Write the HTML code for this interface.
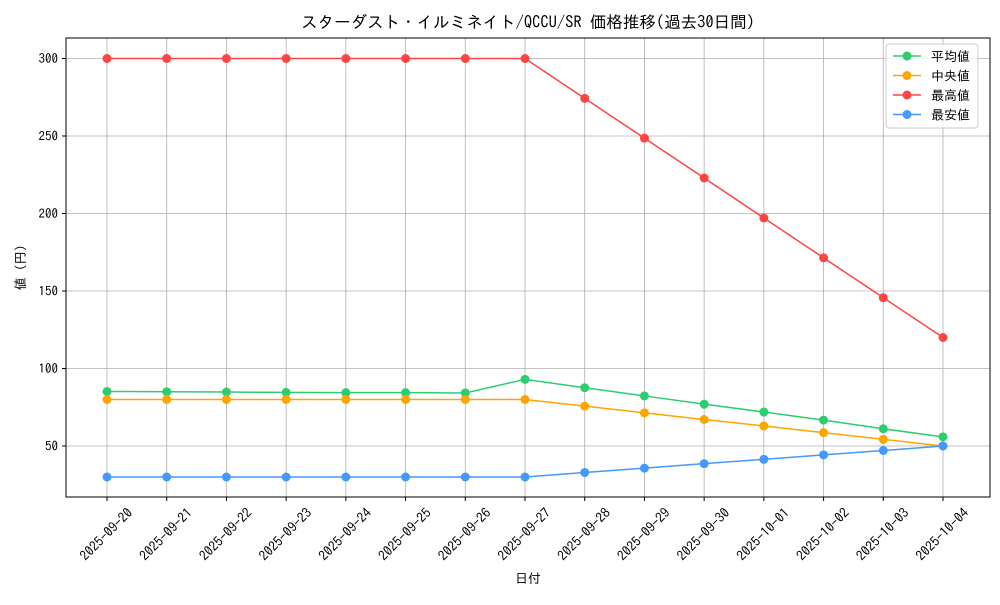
<!DOCTYPE html>
<html><head><meta charset="utf-8"><style>
body{margin:0;background:#fff;}
svg{font-family:"IPAGothic","Noto Sans CJK JP",sans-serif;}
</style></head><body>
<svg id="chart" width="1000" height="600" xmlns="http://www.w3.org/2000/svg"></svg>
<script>
const categories=["2025-09-20","2025-09-21","2025-09-22","2025-09-23","2025-09-24","2025-09-25","2025-09-26","2025-09-27","2025-09-28","2025-09-29","2025-09-30","2025-10-01","2025-10-02","2025-10-03","2025-10-04"];
const avgValues=[85.2,85,84.8,84.6,84.4,84.4,84.2,93,87.6,82.3,77,71.9,66.7,61.1,55.9];
const medValues=[80,80,80,80,80,80,80,80,75.7,71.4,67.1,62.9,58.6,54.3,50];
const maxValues=[300,300,300,300,300,300,300,300,274.3,248.6,222.9,197.1,171.4,145.7,120];
const minValues=[30,30,30,30,30,30,30,30,32.9,35.7,38.6,41.4,44.3,47.1,50];
const yTicks=[50,100,150,200,250,300];
const seriesNames=["平均値","中央値","最高値","最安値"];
const seriesColors=["#2ecc71","#ffa500","#ff4444","#4499ff"];
const seriesKeys=["avg","median","max","min"];

const svg=document.getElementById('chart');
const NS="http://www.w3.org/2000/svg";
const L=66,R=990,T=38,B=497;
const x0=107,x1=943;
function xs(i){return x0+(x1-x0)*i/(categories.length-1);}
function ys(v){return 446-(v-50)*1.55;}
function mk(tag,attrs,parent){const e=document.createElementNS(NS,tag);for(const k in attrs)e.setAttribute(k,attrs[k]);(parent||svg).appendChild(e);return e;}

const grid=mk('g',{});


categories.forEach((c,i)=>{mk('line',{x1:xs(i),x2:xs(i),y1:T,y2:B,stroke:'#b0b0b0','stroke-width':0.8},grid);});
yTicks.forEach(v=>{mk('line',{x1:L,x2:R,y1:ys(v),y2:ys(v),stroke:'#b0b0b0','stroke-width':0.8},grid);});

const frame=mk('rect',{x:L,y:T,width:R-L,height:B-T,fill:'none',stroke:'#000','stroke-width':1});



categories.forEach((c,i)=>{
  mk('line',{x1:xs(i),x2:xs(i),y1:B,y2:B+4,stroke:'#000'});
  const cx=xs(i)-1, cy=B+37;
  const t=mk('text',{x:cx,y:cy,'font-size':13.5,'text-anchor':'middle','dominant-baseline':'central',transform:`rotate(-45 ${cx} ${cy})`});
  t.textContent=c;
  
  
});
yTicks.forEach(v=>{
  mk('line',{x1:L-4,x2:L,y1:ys(v),y2:ys(v),stroke:'#000'});
  const t=mk('text',{x:L-8,y:ys(v)+4.5,'font-size':13,'text-anchor':'end'});
  t.textContent=v;
  
  
});

const series=[avgValues,medValues,maxValues,minValues];
series.forEach((vals,s)=>{
  const g=mk('g',{});
  
  
  mk('polyline',{points:vals.map((v,i)=>xs(i)+','+ys(v)).join(' '),fill:'none',stroke:seriesColors[s],'stroke-width':1.5},g);
  vals.forEach((v,i)=>{
    const c=mk('circle',{cx:xs(i),cy:ys(v),r:4.5,fill:seriesColors[s]},g);
    
    
  });
});

const title=mk('text',{x:(L+R)/2,y:28,'font-size':16.5,'text-anchor':'middle'});
title.textContent="スターダスト・イルミネイト/QCCU/SR 価格推移(過去30日間)";


const xt=mk('text',{x:(L+R)/2,y:583,'font-size':13,'text-anchor':'middle'});
xt.textContent="日付";


const yt=mk('text',{x:25,y:(T+B)/2,'font-size':13,'text-anchor':'middle',transform:`rotate(-90 25 ${(T+B)/2})`});
yt.textContent="値 (円)";



const lg=mk('g',{});


mk('rect',{x:886,y:44,width:92,height:84,rx:3,fill:'#fff','fill-opacity':0.8,stroke:'#ccc'},lg);
seriesNames.forEach((n,s)=>{
  const y=56+s*19.5;
  const e=mk('g',{},lg);
  
  
  mk('line',{x1:893,x2:921,y1:y,y2:y,stroke:seriesColors[s],'stroke-width':1.5},e);
  mk('circle',{cx:907,cy:y,r:4.5,fill:seriesColors[s]},e);
  const t=mk('text',{x:931,y:y+5,'font-size':13},e);
  t.textContent=n;
});
</script>
</body></html>
